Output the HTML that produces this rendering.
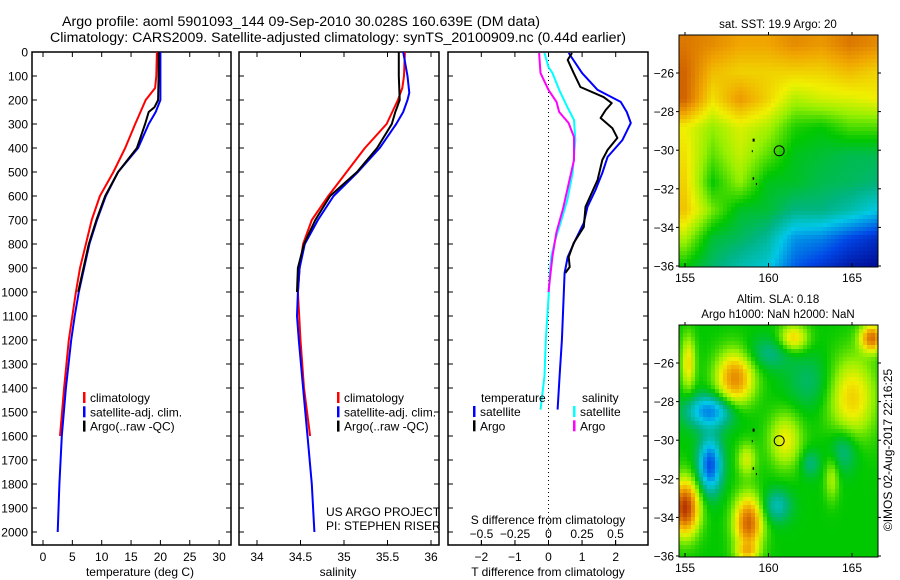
<!DOCTYPE html>
<html><head><meta charset="utf-8">
<style>
html,body{margin:0;padding:0;background:#fff;}
svg{display:block;font-family:"Liberation Sans",sans-serif;}
text{fill:#000;}
</style></head>
<body>
<svg id="fig" width="900" height="580" viewBox="0 0 900 580" xmlns="http://www.w3.org/2000/svg">
<text x="62" y="26" font-size="14.2" textLength="478" lengthAdjust="spacingAndGlyphs">Argo profile: aoml 5901093_144 09-Sep-2010 30.028S 160.639E (DM data)</text>
<text x="50" y="42" font-size="14.2" textLength="576" lengthAdjust="spacingAndGlyphs">Climatology: CARS2009. Satellite-adjusted climatology: synTS_20100909.nc (0.44d earlier)</text>
<g id="g1"></g>
<g id="g2"></g>
<g id="g3"></g>
<g id="m1"></g>
<g id="m2"></g>
<text transform="translate(892,450) rotate(-90)" font-size="12" text-anchor="middle">©IMOS 02-Aug-2017 22:16:25</text>
</svg>
<script>
// ---- profile data (depth in dbar) ----
const depthClim = [0,100,150,200,300,400,500,600,700,800,900,1000,1200,1400,1600];
const tempClim = [19.4,19.3,19.1,17.5,15.7,14.0,12.0,9.7,8.3,7.3,6.3,5.6,4.4,3.6,2.9];
const salClim = [35.70,35.69,35.67,35.62,35.49,35.24,35.03,34.82,34.63,34.53,34.49,34.47,34.50,34.54,34.61];
const depthSat = [0,100,170,200,250,300,400,500,600,700,800,900,1000,1100,1200,1400,1600,1800,2000];
const tempSat = [20.0,20.0,20.0,20.0,19.2,18.0,16.2,12.8,10.7,9.2,7.9,7.0,6.1,5.4,4.8,3.9,3.2,2.8,2.5];
const salSat = [35.68,35.73,35.75,35.73,35.68,35.60,35.41,35.16,34.88,34.70,34.55,34.49,34.47,34.46,34.48,34.53,34.58,34.63,34.66];
const depthArgo = [0,100,200,230,250,300,400,500,600,700,800,900,1000];
const tempArgo = [19.7,19.7,19.6,19.0,18.0,17.4,16.0,12.8,10.6,9.1,7.8,6.9,6.0];
const salArgo = [35.63,35.63,35.64,35.61,35.59,35.55,35.38,35.15,34.84,34.67,34.54,34.47,34.46];
// differences
const depthDT = [4,88,158,208,250,296,367,437,504,575,645,712,783,854,921,1025,1200,1350,1490];
const dTsat = [0.6,1.0,1.46,2.15,2.33,2.45,2.2,1.76,1.6,1.4,1.16,1.05,0.8,0.57,0.48,0.45,0.4,0.33,0.27];
const depthDTargo = [4,33,88,146,188,213,242,275,317,358,408,450,533,645,729,796,854,896,921];
const dTargo = [0.7,0.57,0.75,0.95,1.64,1.88,1.7,1.55,1.9,2.05,1.76,1.6,1.46,1.1,1.05,0.75,0.6,0.63,0.5];
const depthDS = [4,63,88,158,229,283,367,504,617,712,783,854,921,1025,1200,1350,1490];
const dSsat = [-0.03,0,0.03,0.08,0.14,0.19,0.2,0.18,0.14,0.09,0.05,0.02,0.01,0,-0.02,-0.03,-0.06];
const depthDSargo = [4,88,158,208,250,296,354,450,550,650,750,850,950,1000];
const dSargo = [-0.07,-0.06,0,0.06,0.08,0.15,0.19,0.19,0.15,0.11,0.06,0.03,0.01,0.0];
const tempTicks = [0,5,10,15,20,25,30];
const salTicks = [34,34.5,35,35.5,36];
const dTTicks = [-2,-1,0,1,2];
const dSTicks = [-0.5,-0.25,0,0.25,0.5];
const depthTicks = [0,100,200,300,400,500,600,700,800,900,1000,1100,1200,1300,1400,1500,1600,1700,1800,1900,2000];

const NS='http://www.w3.org/2000/svg';
function mk(parent,tag,attrs,txt){const e=document.createElementNS(NS,tag);for(const k in attrs)e.setAttribute(k,attrs[k]);if(txt!==undefined)e.textContent=txt;parent.appendChild(e);return e;}
const PT=52,PB=545;
const yD=d=>52+d*0.24;
function frame(g,x0,x1){
  const r=mk(g,'rect',{x:x0,y:PT,width:x1-x0,height:PB-PT,fill:'none',stroke:'#000','stroke-width':1.5});
  
  
  depthTicks.forEach(d=>{const y=yD(d);
    const t1=mk(g,'line',{x1:x0,x2:x0+5,y1:y,y2:y,stroke:'#000'});
    
    
    const t2=mk(g,'line',{x1:x1-5,x2:x1,y1:y,y2:y,stroke:'#000'});
    
    
  });
}
function xticks(g,vals,fx,labelY,top,fmt){
  vals.forEach(v=>{const x=fx(v);
    const a=mk(g,'line',{x1:x,x2:x,y1:PB,y2:PB-5,stroke:'#000'});
    
    
    if(top){const b=mk(g,'line',{x1:x,x2:x,y1:PT,y2:PT+5,stroke:'#000'});
      
      }
    const t=mk(g,'text',{x:x,y:labelY,'font-size':12,'text-anchor':'middle'},fmt?fmt(v):String(v).replace('-','\u2212'));
    
    
  });
}
function line(g,xs,ds,fx,color,name){
  const pts=xs.map((v,i)=>fx(v).toFixed(1)+','+yD(ds[i]).toFixed(1)).join(' ');
  const p=mk(g,'polyline',{points:pts,fill:'none',stroke:color,'stroke-width':2,'stroke-linejoin':'round'});
  
  
}
function legend(g,x,y,items){
  items.forEach((it,i)=>{
    const b=mk(g,'rect',{x:x,y:y+i*14.3-10,width:2.5,height:11,fill:it[0]});
    
    
    const t=mk(g,'text',{x:x+7,y:y+i*14.3,'font-size':12},it[1]);
    
    
  });
}
// panel 1
const g1=document.getElementById('g1');
const fT=t=>43+5.87*t;
frame(g1,32,231);
depthTicks.forEach(d=>{const t=mk(g1,'text',{x:28,y:yD(d)+4.5,'font-size':12,'text-anchor':'end'},String(d));
  
  });
xticks(g1,tempTicks,fT,561,true);
const xt1=mk(g1,'text',{x:140,y:576,'font-size':12,'text-anchor':'middle'},'temperature (deg C)');


line(g1,tempClim,depthClim,fT,'#ff0000','temp-climatology-line');
line(g1,tempSat,depthSat,fT,'#0000ff','temp-satellite-line');
line(g1,tempArgo,depthArgo,fT,'#000000','temp-argo-line');
legend(g1,83,402,[['#ff0000','climatology'],['#0000ff','satellite-adj. clim.'],['#000','Argo(..raw -QC)']]);
// panel 2
const g2=document.getElementById('g2');
const fS=s=>257+87*(s-34);
frame(g2,239,439);
xticks(g2,salTicks,fS,561,true);
const xt2=mk(g2,'text',{x:338,y:576,'font-size':12,'text-anchor':'middle'},'salinity');


line(g2,salClim,depthClim,fS,'#ff0000','sal-climatology-line');
line(g2,salSat,depthSat,fS,'#0000ff','sal-satellite-line');
line(g2,salArgo,depthArgo,fS,'#000000','sal-argo-line');
legend(g2,337,402,[['#ff0000','climatology'],['#0000ff','satellite-adj. clim.'],['#000','Argo(..raw -QC)']]);
const c1=mk(g2,'text',{x:326,y:516,'font-size':12},'US ARGO PROJECT');


const c2=mk(g2,'text',{x:326,y:530,'font-size':12},'PI: STEPHEN RISER');


// panel 3
const g3=document.getElementById('g3');
const fdT=v=>548.5+33.6*v;
const fdS=v=>548.5+134*v;
frame(g3,448,648);
const z=mk(g3,'line',{x1:fdT(0),x2:fdT(0),y1:PT,y2:PB,stroke:'#000','stroke-dasharray':'1,3'});


xticks(g3,dTTicks,fdT,561,true);
dSTicks.forEach(v=>{const x=fdS(v);
  const a=mk(g3,'line',{x1:x,x2:x,y1:PB,y2:PB-5,stroke:'#000'});
  
  
  const t=mk(g3,'text',{x:x,y:538,'font-size':12,'text-anchor':'middle'},String(v).replace('-','\u2212'));
  
  
});
const st=mk(g3,'text',{x:548,y:524,'font-size':12,'text-anchor':'middle'},'S difference from climatology');


const tt=mk(g3,'text',{x:548,y:576,'font-size':12,'text-anchor':'middle'},'T difference from climatology');


line(g3,dSsat,depthDS,fdS,'#00ffff','sal-diff-satellite-line');
line(g3,dSargo,depthDSargo,fdS,'#ff00ff','sal-diff-argo-line');
line(g3,dTsat,depthDT,fdT,'#0000ff','temp-diff-satellite-line');
line(g3,dTargo,depthDTargo,fdT,'#000000','temp-diff-argo-line');
const lt=mk(g3,'text',{x:481,y:402,'font-size':12},'temperature');


const ls=mk(g3,'text',{x:582,y:402,'font-size':12},'salinity');


legend(g3,473,416,[['#0000ff','satellite'],['#000','Argo']]);
legend(g3,573,416,[['#00ffff','satellite'],['#ff00ff','Argo']]);

// ---- maps ----
const cmapStops=[[0,[0,0,130]],[0.15,[0,70,230]],[0.3,[0,200,230]],[0.4,[0,180,130]],[0.5,[0,200,0]],[0.6,[150,240,0]],[0.68,[240,240,0]],[0.78,[240,165,0]],[0.88,[210,100,0]],[1,[160,20,0]]];
function cmap(v){v=Math.max(0,Math.min(1,v));for(let i=1;i<cmapStops.length;i++){if(v<=cmapStops[i][0]){const a=cmapStops[i-1],b=cmapStops[i];const f=(v-a[0])/(b[0]-a[0]);const c=a[1].map((x,k)=>Math.round(x+(b[1][k]-x)*f));return 'rgb('+c.join(',')+')';}}return 'rgb(160,20,0)';}
const sstGrid=[
[.85,.82,.78,.78,.82,.80,.85,.82],
[.88,.75,.72,.72,.72,.72,.75,.72],
[.88,.70,.80,.72,.62,.65,.66,.68],
[.68,.60,.66,.62,.52,.50,.55,.55],
[.70,.56,.64,.56,.48,.46,.44,.44],
[.72,.50,.60,.48,.47,.44,.43,.41],
[.74,.58,.47,.46,.40,.40,.36,.30],
[.62,.46,.43,.38,.24,.22,.15,.10],
[.50,.42,.36,.32,.18,.12,.06,.03]];
const slaBlobs=[[158,-26.8,.32,.8,1.0],[156.5,-28.5,-.28,1.0,.6],[156.5,-31.3,-.34,.5,1.0],[155,-33.5,.45,.6,1.0],[158.8,-34.3,.38,.6,1.0],[161,-30,.18,.7,1.0],[158.7,-31,.15,.4,.6],[165,-27.8,.22,1.0,1.5],[166.2,-24.7,.35,.5,.5],[161.5,-24.7,.22,.6,.5],[155.2,-26,.2,.3,1.0],[160.5,-33.4,-.15,.6,.6],[164.5,-30.5,-.12,.6,.8],[162.5,-31.2,-.1,.4,.5],[163.8,-32,.12,.3,.8],[160,-25.5,-.1,1,.6],[162.5,-27,-.08,1,1],[158.7,-35.8,.15,.5,.3]];
const lonTicks=[155,160,165];
const latTicks=[-26,-28,-30,-32,-34,-36];
function sstVal(lon,lat){const gx=(lon-155)/11.5*7, gy=(-24.5-lat)/11.5*8;
  const x=Math.max(0,Math.min(6.999,gx)), y=Math.max(0,Math.min(7.999,gy));
  const i=Math.floor(x),j=Math.floor(y),fx=x-i,fy=y-j;
  return sstGrid[j][i]*(1-fx)*(1-fy)+sstGrid[j][i+1]*fx*(1-fy)+sstGrid[j+1][i]*(1-fx)*fy+sstGrid[j+1][i+1]*fx*fy;}
function slaVal(lon,lat){let v=0.5;slaBlobs.forEach(b=>{v+=b[2]*Math.exp(-((lon-b[0])**2/(2*b[3]*b[3])+(lat-b[1])**2/(2*b[4]*b[4])));});return v;}
function drawMap(g,y0,fn,t1,t2){
  const x0=679,x1=878,y1=y0+232;
  const fx=lon=>685+(lon-155)*16.7, fy=lat=>y0+38+(-26-lat)*19.3;
  const cs=4;
  for(let py=y0;py<y1;py+=cs){for(let px=x0;px<x1;px+=cs){
    const lon=155+(px+cs/2-685)/16.7, lat=-26-(py+cs/2-y0-38)/19.3;
    const r=mk(g,'rect',{x:px,y:py,width:Math.min(cs,x1-px)+0.3,height:Math.min(cs,y1-py)+0.3,fill:cmap(fn(lon,lat))});
    
    
  }}
  const fr=mk(g,'rect',{x:x0,y:y0,width:x1-x0,height:y1-y0,fill:'none',stroke:'#000','stroke-width':1});
  
  
  lonTicks.forEach(l=>{const x=fx(l);
    const a=mk(g,'line',{x1:x,x2:x,y1:y1,y2:y1-4,stroke:'#000'});
    
    
    const b=mk(g,'line',{x1:x,x2:x,y1:y0,y2:y0-3,stroke:'#000'});
    
    
    const t=mk(g,'text',{x:x,y:y1+15,'font-size':12,'text-anchor':'middle'},String(l));
    
    });
  latTicks.forEach(l=>{const y=fy(l);
    const a=mk(g,'line',{x1:x0,x2:x0-3,y1:y,y2:y,stroke:'#000'});
    
    
    const b=mk(g,'line',{x1:x1,x2:x1+3,y1:y,y2:y,stroke:'#000'});
    
    
    const t=mk(g,'text',{x:x0-5,y:y+4.5,'font-size':12,'text-anchor':'end'},String(l).replace('-','\u2212'));
    
    });
  const c=mk(g,'circle',{cx:fx(160.64),cy:fy(-30.03),r:5,fill:'none',stroke:'#000','stroke-width':1});
  
  
  [[159.05,-29.4,2],[159.0,-30.0,1],[159.05,-31.4,1.5],[159.25,-31.7,1]].forEach(p=>{
    const d=mk(g,'rect',{x:fx(p[0]),y:fy(p[1]),width:p[2],height:p[2]+1,fill:'#000'});
    
    });
  t1.forEach((s,i)=>{const t=mk(g,'text',{x:778,y:y0-(t1.length-1-i)*15-7,'font-size':11.5,'text-anchor':'middle'},s);
    
    });
}
drawMap(document.getElementById('m1'),35,sstVal,['sat. SST: 19.9 Argo: 20']);
drawMap(document.getElementById('m2'),325,slaVal,['Altim. SLA: 0.18','Argo h1000: NaN h2000: NaN']);
</script>
</body></html>
